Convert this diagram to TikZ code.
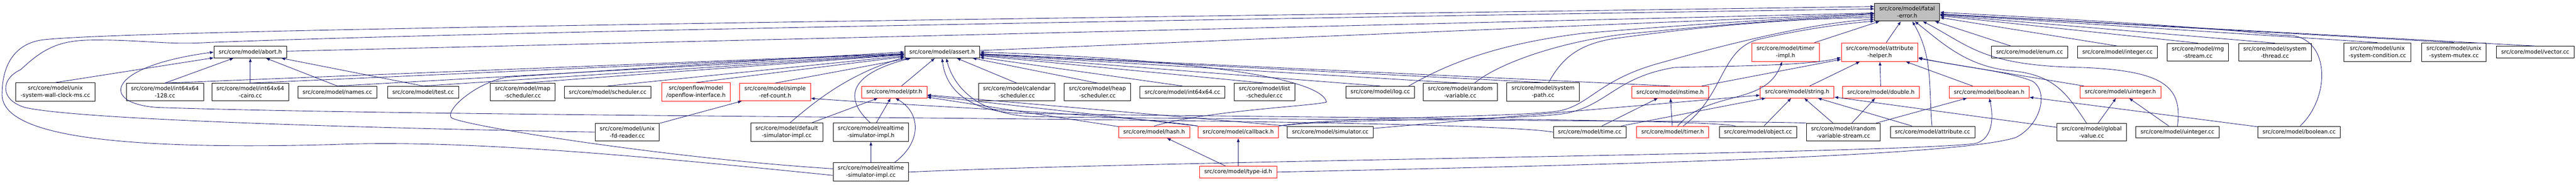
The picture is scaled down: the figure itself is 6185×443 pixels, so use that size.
\documentclass[tikz,border=0pt]{standalone}
\usepackage{fontspec}
\setmainfont{DejaVu Sans}
\usetikzlibrary{arrows.meta}
\definecolor{edgeblue}{RGB}{25,25,112}
\definecolor{focusgray}{RGB}{191,191,191}
\begin{document}
\begin{tikzpicture}[
                            x=0.75pt, y=-0.75pt,
                            >={Latex[length=7pt,width=5.5pt]},
                            filebox/.style={draw, rectangle, line width=0.8pt, fill=white, align=center,
                                font=\fontsize{10pt}{13pt}\selectfont,
                                inner xsep=8.5pt, inner ysep=5.4pt, minimum height=21pt},
                            redbox/.style={filebox, draw=red},
                            focusbox/.style={filebox, fill=focusgray},
                            incl/.style={draw=edgeblue, line width=0.8pt, ->}
                            ]

                            \useasboundingbox (0,0) rectangle (6185,443);

                            \node [focusbox] (fatal) at (4579,29.5) {src/core/model/fatal\\-error.h};

                            \node [filebox] (abort) at (601,125) {src/core/model/abort.h};
                            \node [filebox] (assert) at (2262,125) {src/core/model/assert.h};
                            \node [redbox] (timerimpl) at (4287,125) {src/core/model/timer\\-impl.h};
                            \node [redbox] (attrhelper) at (4513,125) {src/core/model/attribute\\-helper.h};
                            \node [filebox] (enumcc) at (4873,125) {src/core/model/enum.cc};
                            \node [filebox] (integercc) at (5084,125) {src/core/model/integer.cc};
                            \node [filebox] (rngstream) at (5277,125) {src/core/model/rng\\-stream.cc};
                            \node [filebox] (systhread) at (5462,125) {src/core/model/system\\-thread.cc};
                            \node [filebox] (unixcond) at (5708,125) {src/core/model/unix\\-system-condition.cc};
                            \node [filebox] (unixmutex) at (5892,125) {src/core/model/unix\\-system-mutex.cc};
                            \node [filebox] (vectorcc) at (6087,125) {src/core/model/vector.cc};

                            \node [filebox] (wallclock) at (133,221) {src/core/model/unix\\-system-wall-clock-ms.cc};
                            \node [filebox] (int128) at (396,221) {src/core/model/int64x64\\-128.cc};
                            \node [filebox] (cairo) at (601,221) {src/core/model/int64x64\\-cairo.cc};
                            \node [filebox] (namescc) at (810,221) {src/core/model/names.cc};
                            \node [filebox] (testcc) at (1016,221) {src/core/model/test.cc};
                            \node [filebox] (mapsched) at (1255,221) {src/core/model/map\\-scheduler.cc};
                            \node [filebox] (schedcc) at (1459,221) {src/core/model/scheduler.cc};
                            \node [redbox] (openflow) at (1671,221) {src/openflow/model\\/openflow-interface.h};
                            \node [redbox] (simpleref) at (1861,221) {src/core/model/simple\\-ref-count.h};
                            \node [redbox] (ptr) at (2147,221) {src/core/model/ptr.h};
                            \node [filebox] (calsched) at (2441,221) {src/core/model/calendar\\-scheduler.cc};
                            \node [filebox] (heapsched) at (2635,221) {src/core/model/heap\\-scheduler.cc};
                            \node [filebox] (int64cc) at (2839,221) {src/core/model/int64x64.cc};
                            \node [filebox] (listsched) at (3036,221) {src/core/model/list\\-scheduler.cc};
                            \node [filebox] (logcc) at (3314,221) {src/core/model/log.cc};
                            \node [filebox] (randvar) at (3506,221) {src/core/model/random\\-variable.cc};
                            \node [filebox] (syspath) at (3705,221) {src/core/model/system\\-path.cc};
                            \node [redbox] (nstime) at (4010,221) {src/core/model/nstime.h};
                            \node [redbox] (stringh) at (4315,221) {src/core/model/string.h};
                            \node [redbox] (doubleh) at (4516,221) {src/core/model/double.h};
                            \node [redbox] (booleanh) at (4776,221) {src/core/model/boolean.h};
                            \node [redbox] (uintegerh) at (5091,221) {src/core/model/uinteger.h};

                            \node [filebox] (fdreader) at (1506,317) {src/core/model/unix\\-fd-reader.cc};
                            \node [filebox] (defsim) at (1889,317) {src/core/model/default\\-simulator-impl.cc};
                            \node [filebox] (rtsimh) at (2091,317) {src/core/model/realtime\\-simulator-impl.h};
                            \node [redbox] (hashh) at (2771,317) {src/core/model/hash.h};
                            \node [redbox] (callbackh) at (2973,317) {src/core/model/callback.h};
                            \node [filebox] (simcc) at (3194,317) {src/core/model/simulator.cc};
                            \node [filebox] (timecc) at (3817,317) {src/core/model/time.cc};
                            \node [redbox] (timerh) at (4016,317) {src/core/model/timer.h};
                            \node [filebox] (objectcc) at (4221,317) {src/core/model/object.cc};
                            \node [filebox] (rvstream) at (4426,317) {src/core/model/random\\-variable-stream.cc};
                            \node [filebox] (attrcc) at (4640,317) {src/core/model/attribute.cc};
                            \node [filebox] (globalval) at (5022,317) {src/core/model/global\\-value.cc};
                            \node [filebox] (uintegercc) at (5228,317) {src/core/model/uinteger.cc};
                            \node [filebox] (booleancc) at (5520,317) {src/core/model/boolean.cc};

                            \node [filebox] (rtsimcc) at (2091,413) {src/core/model/realtime\\-simulator-impl.cc};
                            \node [redbox] (typeidh) at (2973,413) {src/core/model/type-id.h};

                            \draw[incl] (abort) -- (fatal);
                            \draw[incl] (assert) -- (fatal);
                            \draw[incl] (timerimpl) -- (fatal);
                            \draw[incl] (attrhelper) -- (fatal);
                            \draw[incl] (enumcc) -- (fatal);
                            \draw[incl] (integercc.north) -- (fatal);
                            \draw[incl] (rngstream.north) -- (fatal);
                            \draw[incl] (systhread.north) -- (fatal);
                            \draw[incl] (unixcond.north) -- (fatal);
                            \draw[incl] (unixmutex.north) -- (fatal);
                            \draw[incl] (vectorcc.north) -- (fatal);
                            \draw[incl] (rtsimcc.185) .. controls (1500,370) and (1100,335) .. (800,347) .. controls (300,360) and (5,330) .. (5,227) .. controls (5,150) and (40,105) .. (100,96) .. controls (300,70) and (2500,45) .. (fatal.170);
                            \draw[incl] (fdreader.west) .. controls (1000,310) and (200,290) .. (60,258) .. controls (0,240) and (0,190) .. (50,167) .. controls (110,110) and (150,96) .. (230,96) .. controls (350,96) and (400,108) .. (500,102) .. controls (1200,75) and (3000,45) .. (fatal.174);
                            \draw[incl] (logcc.12) .. controls (3480,150) and (3600,105) .. (3800,80) .. controls (4100,55) and (4300,45) .. (fatal.183);
                            \draw[incl] (randvar.32) .. controls (3600,150) and (3750,100) .. (3900,82) .. controls (4150,58) and (4300,45) .. (fatal.186);
                            \draw[incl] (syspath.60) .. controls (3750,140) and (3790,105) .. (3880,92) .. controls (4100,62) and (4300,45) .. (fatal.189);
                            \draw[incl] (callbackh.north east) .. controls (3200,280) and (3650,282) .. (3745,266) .. controls (3820,250) and (3840,190) .. (3990,150) .. controls (4150,105) and (4350,55) .. (fatal.192);
                            \draw[incl] (timerh.30) .. controls (4140,230) and (4130,120) .. (4220,95) .. controls (4350,65) and (4450,55) .. (fatal.195);
                            \draw[incl] (attrcc) to[out=95,in=-60] (fatal);
                            \draw[incl] (globalval.120) .. controls (4960,220) and (4930,180) .. (4830,170) .. controls (4720,160) and (4660,100) .. (fatal.-50);
                            \draw[incl] (uintegercc.north) .. controls (5240,210) and (5200,170) .. (5000,162) .. controls (4760,158) and (4730,110) .. (fatal.-30);
                            \draw[incl] (booleancc.80) .. controls (5600,230) and (5595,75) .. (5480,85) .. controls (5250,60) and (4850,40) .. (fatal.east);

                            \draw[incl] (wallclock.north) -- (abort);
                            \draw[incl] (int128.north) -- (abort);
                            \draw[incl] (cairo.north) -- (abort);
                            \draw[incl] (namescc.north) -- (abort);
                            \draw[incl] (testcc.north) -- (abort);
                            \draw[incl] (timecc.west) .. controls (3500,280) and (1200,285) .. (380,258) .. controls (240,250) and (250,160) .. (abort.west);

                            \draw[incl] (int128.north) -- (assert);
                            \draw[incl] (cairo.north) -- (assert);
                            \draw[incl] (namescc.north) -- (assert);
                            \draw[incl] (testcc.north) -- (assert);
                            \draw[incl] (mapsched.north) -- (assert);
                            \draw[incl] (schedcc.north) -- (assert);
                            \draw[incl] (openflow.north) -- (assert);
                            \draw[incl] (simpleref.north) -- (assert);
                            \draw[incl] (ptr) -- (assert);
                            \draw[incl] (calsched.north) -- (assert);
                            \draw[incl] (heapsched.north) -- (assert);
                            \draw[incl] (int64cc.north) -- (assert);
                            \draw[incl] (listsched.north) -- (assert);
                            \draw[incl] (logcc.north) -- (assert);
                            \draw[incl] (randvar.north) -- (assert);
                            \draw[incl] (syspath.north) -- (assert);
                            \draw[incl] (nstime.north) -- (assert);
                            \draw[incl] (defsim.70) .. controls (1950,250) and (2030,180) .. (assert.-172);
                            \draw[incl] (rtsimh.95) .. controls (2030,240) and (2030,180) .. (assert.-169);
                            \draw[incl] (rtsimcc.175) .. controls (1600,380) and (1100,300) .. (1083,282) .. controls (1070,260) and (1150,195) .. (1220,185) .. controls (1600,160) and (1900,140) .. (assert.west);
                            \draw[incl] (hashh.north) .. controls (2900,265) and (3150,255) .. (3185,245) .. controls (3170,180) and (2800,140) .. (assert.east);
                            \draw[incl] (objectcc.165) .. controls (4100,285) and (3000,282) .. (2450,272) .. controls (2320,268) and (2270,210) .. (assert.south);
                            \draw[incl] (rvstream.north west) .. controls (4250,290) and (3000,288) .. (2480,280) .. controls (2350,275) and (2290,210) .. ([xshift=7.5pt]assert.south);

                            \draw[incl] (fdreader) -- (simpleref);
                            \draw[incl] (callbackh.north west) .. controls (2700,275) and (2200,255) .. (simpleref.-10);

                            \draw[incl] (defsim) -- (ptr);
                            \draw[incl] (rtsimh) -- (ptr);
                            \draw[incl] (rtsimcc.22) .. controls (2215,340) and (2210,270) .. (ptr.-80);
                            \draw[incl] (hashh) -- (ptr);
                            \draw[incl] (callbackh.north west) -- (ptr);
                            \draw[incl] (simcc.north west) -- (ptr);

                            \draw[incl] (rtsimcc) -- (rtsimh);
                            \draw[incl] (typeidh) -- (hashh);
                            \draw[incl] (typeidh) -- (callbackh);

                            \draw[incl] (nstime) -- (attrhelper);
                            \draw[incl] (stringh) -- (attrhelper);
                            \draw[incl] (doubleh) -- (attrhelper);
                            \draw[incl] (booleanh) -- (attrhelper);
                            \draw[incl] (uintegerh) -- (attrhelper);
                            \draw[incl] (callbackh.north east) .. controls (3200,284) and (3650,290) .. (3760,272) .. controls (3860,252) and (3880,185) .. (4020,162) .. controls (4200,158) and (4350,156) .. (attrhelper.-172);
                            \draw[incl] (typeidh.east) .. controls (3900,395) and (4700,375) .. (4840,330) .. controls (4900,300) and (4920,220) .. (4880,195) .. controls (4820,170) and (4700,160) .. (attrhelper.-8);

                            \draw[incl] (timerh) -- (nstime);
                            \draw[incl] (timecc) -- (nstime);
                            \draw[incl] (timerh) to[out=50,in=-110] (timerimpl);

                            \draw[incl] (objectcc) -- (stringh);
                            \draw[incl] (rvstream) -- (stringh);
                            \draw[incl] (attrcc) -- (stringh);
                            \draw[incl] (simcc) -- (stringh);
                            \draw[incl] (timecc) -- (stringh);
                            \draw[incl] (globalval) -- (stringh);
                            \draw[incl] (rvstream) -- (doubleh);
                            \draw[incl] (rvstream) -- (booleanh);
                            \draw[incl] (booleancc) -- (booleanh);
                            \draw[incl] (rtsimcc.east) .. controls (2800,385) and (4500,370) .. (4740,345) .. controls (4790,335) and (4785,270) .. (booleanh.south);
                            \draw[incl] (globalval) -- (uintegerh);
                            \draw[incl] (uintegercc) -- (uintegerh);

                        \end{tikzpicture}
\end{document}
